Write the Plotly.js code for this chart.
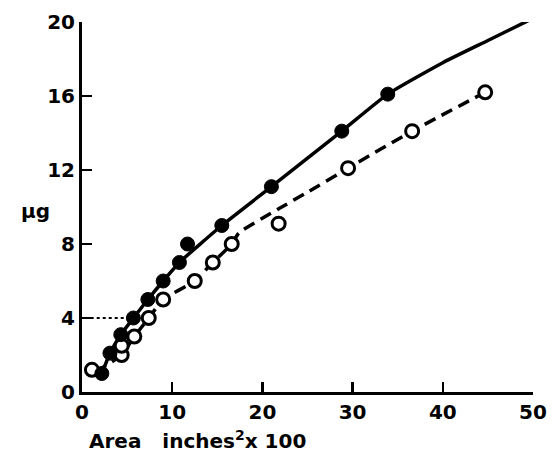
<!DOCTYPE html>
<html><head><meta charset="utf-8">
<script src="https://cdn.plot.ly/plotly-3.0.1.min.js"></script>
<style>html,body{margin:0;padding:0;background:#fff}#chart{width:552px;height:458px}</style>
</head><body><div id="chart"></div>
<script>
// Filled circles (solid curve)
const filledX = [2.2, 3.1, 4.3, 5.7, 7.3, 9.0, 10.8, 11.7, 15.5, 21.0, 28.8, 33.9];
const filledY = [1.0, 2.1, 3.1, 4.0, 5.0, 6.0, 7.0, 8.0, 9.0, 11.1, 14.1, 16.1];
// Open circles (dashed curve)
const openX = [1.1, 4.4, 4.4, 5.8, 7.4, 9.0, 12.5, 14.5, 16.6, 21.8, 29.5, 36.6, 44.7];
const openY = [1.2, 2.0, 2.5, 3.0, 4.0, 5.0, 6.0, 7.0, 8.0, 9.1, 12.1, 14.1, 16.2];
// Drawn curves
const solidX = [2.2, 3.1, 4.3, 5.7, 7.3, 9.0, 10.8, 15.5, 21.0, 28.8, 33.9, 40.0, 45.0, 50.0];
const solidY = [1.0, 2.1, 3.1, 4.0, 5.0, 6.0, 7.0, 9.0, 11.1, 14.1, 16.1, 17.8, 19.0, 20.2];
const dashX = [1.5, 4.4, 5.8, 7.4, 9.0, 12.5, 14.5, 16.6, 17.4, 21.8, 25.0, 29.5, 36.6, 44.7];
const dashY = [1.1, 2.0, 3.0, 4.0, 5.0, 6.0, 7.0, 8.0, 8.6, 9.9, 10.8, 12.1, 14.1, 16.2];
const xTicks = [0, 10, 20, 30, 40, 50];
const yTicks = [0, 4, 8, 12, 16, 20];

const F = 'DejaVu Sans, sans-serif';
const traces = [
  {x: solidX, y: solidY, mode: 'lines', line: {color: '#000', width: 3.5, shape: 'spline', smoothing: 0.5}, hoverinfo: 'skip'},
  {x: dashX, y: dashY, mode: 'lines', line: {color: '#000', width: 3.5, dash: '12px,7px', shape: 'spline', smoothing: 0.5}, hoverinfo: 'skip'},
  {x: openX, y: openY, mode: 'markers', marker: {symbol: 'circle', size: 13, color: '#fff', line: {color: '#000', width: 3}}},
  {x: filledX, y: filledY, mode: 'markers', marker: {symbol: 'circle', size: 14, color: '#000', line: {color: '#000', width: 1}}}
];

const layout = {
  width: 552, height: 458,
  margin: {l: 82, r: 19, t: 22, b: 66},
  paper_bgcolor: '#fff', plot_bgcolor: '#fff',
  showlegend: false,
  xaxis: {
    range: [0, 50], tickvals: xTicks, ticktext: xTicks.map(String),
    showgrid: false, zeroline: false, showline: true, linecolor: '#000', linewidth: 3,
    ticks: 'inside', ticklen: 10, tickwidth: 2.5, tickcolor: '#000',
    tickfont: {family: F, size: 20, color: '#000', weight: 'bold'}
  },
  yaxis: {
    range: [0, 20], tickvals: yTicks, ticktext: yTicks.map(String),
    showgrid: false, zeroline: false, showline: true, linecolor: '#000', linewidth: 3,
    ticks: 'inside', ticklen: 10, tickwidth: 2.5, tickcolor: '#000',
    tickfont: {family: F, size: 20, color: '#000', weight: 'bold'}
  },
  shapes: [
    {type: 'line', xref: 'x', yref: 'y', x0: 0.3, x1: 4.8, y0: 4, y1: 4, line: {color: '#000', width: 2, dash: 'dot'}}
  ],
  annotations: [
    {text: 'μg', xref: 'paper', yref: 'paper', x: -0.104, y: 0.489, xanchor: 'center', yanchor: 'middle', showarrow: false, font: {family: F, size: 20, color: '#000', weight: 'bold'}},
    {text: 'Area   inches<sup>2</sup>x 100', xref: 'paper', yref: 'paper', x: 0.01, y: -0.13, xanchor: 'left', yanchor: 'middle', showarrow: false, font: {family: F, size: 20, color: '#000', weight: 'bold'}}
  ]
};
Plotly.newPlot('chart', traces, layout, {displayModeBar: false, staticPlot: true});
</script></body></html>
